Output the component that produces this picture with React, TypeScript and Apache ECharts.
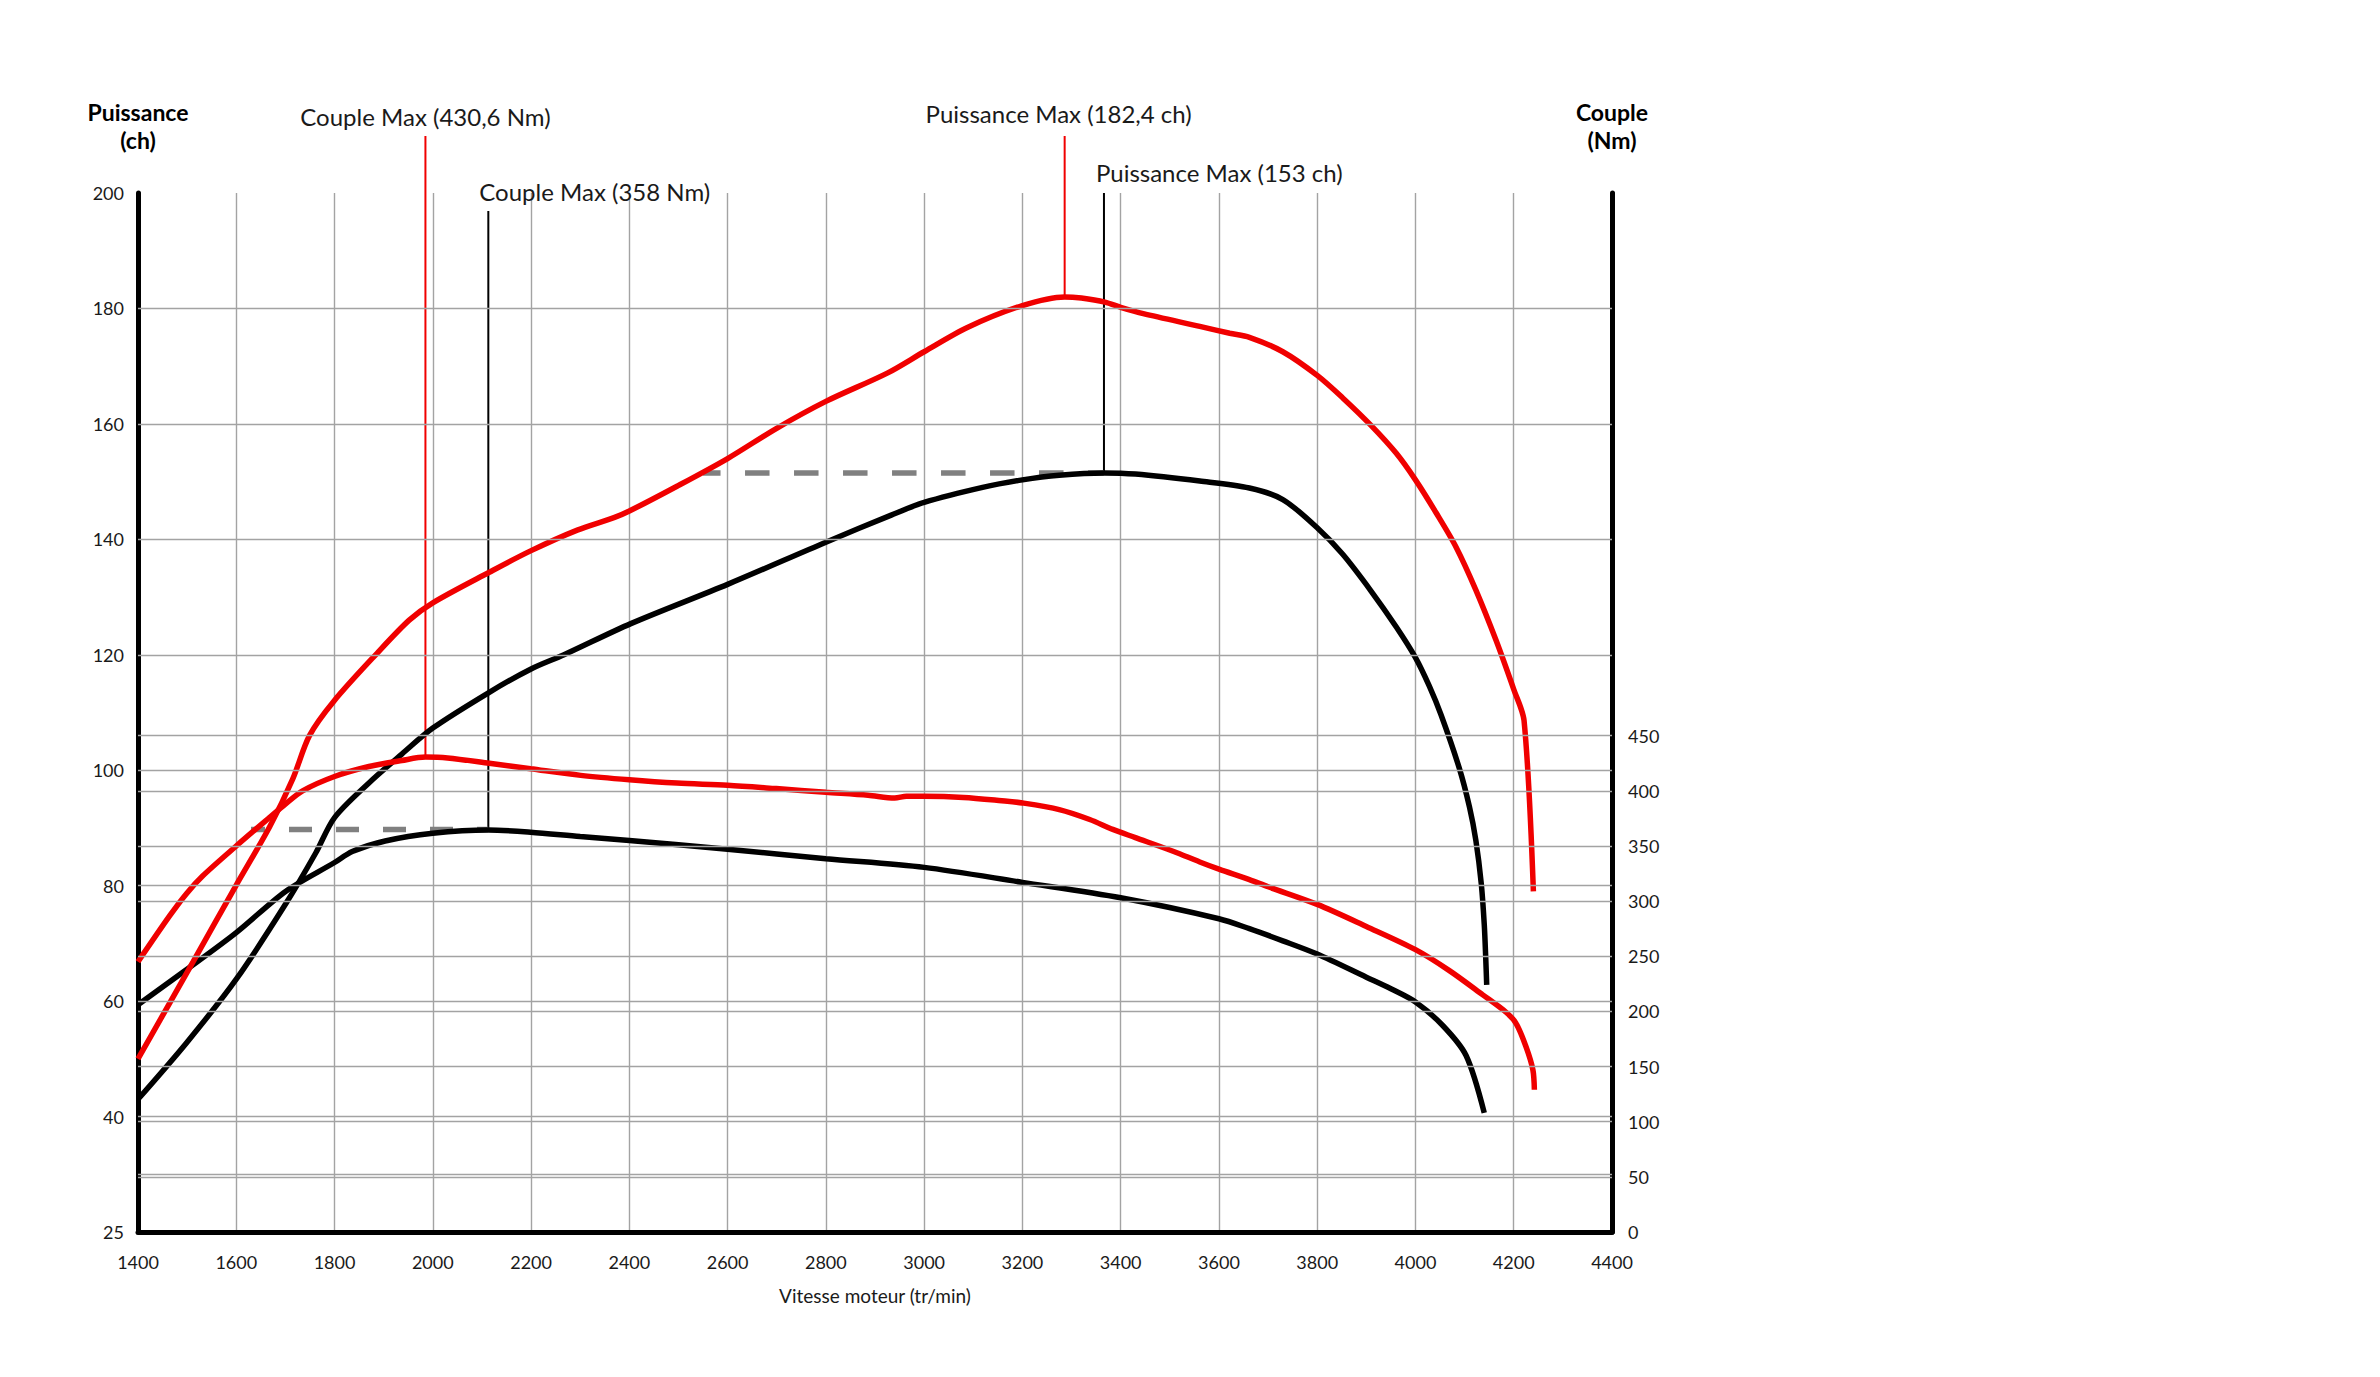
import React, { useEffect, useRef } from "react";
import * as echarts from "echarts";

// ---------- data ----------
// Puissance (ch) vs régime (tr/min)
const redPower: [number, number][] = [
  [1400, 50], [1512, 66.8], [1600, 80.1], [1668, 90.2], [1715, 98.5], [1749, 106],
  [1799, 112], [1887, 120.3], [1952, 126], [2000, 129], [2115, 134.3], [2199, 138],
  [2294, 141.6], [2370, 143.8], [2400, 144.9], [2497, 149.2], [2600, 154], [2699, 159.2],
  [2800, 163.9], [2925, 168.8], [3000, 172.5], [3088, 176.7], [3200, 180.5], [3286, 182],
  [3320, 181.8], [3368, 181.1], [3400, 180.2], [3446, 179.1], [3561, 176.9], [3622, 175.7],
  [3662, 175], [3730, 172.5], [3800, 168.4], [3852, 164.5], [3910, 159.7], [3961, 154.9],
  [4000, 150.3], [4042, 144.6], [4083, 138.6], [4123, 131.2], [4164, 122.5], [4200, 114],
  [4221, 108.6], [4240, 79],
];
const blackPower: [number, number][] = [
  [1400, 43], [1499, 52.8], [1600, 63.8], [1701, 76.9], [1762, 85.7], [1800, 91.8],
  [1870, 97.8], [1937, 102.8], [2000, 107.3], [2115, 113.5], [2199, 117.5], [2267, 120],
  [2403, 125.4], [2600, 132.2], [2800, 139.5], [2933, 144.2], [3000, 146.4], [3119, 149],
  [3200, 150.3], [3275, 151.1], [3366, 151.5], [3430, 151.3], [3561, 150.1], [3662, 148.9],
  [3730, 146.9], [3800, 142], [3852, 137.4], [3910, 131], [3961, 124.8], [4000, 119.5],
  [4028, 114.6], [4052, 109.6], [4089, 100.4], [4110, 93.6], [4123, 87.8], [4134, 80.3],
  [4140, 73.3], [4143, 67.5], [4145, 62.8],
];
// Couple (Nm) vs régime (tr/min)
const redTorque: [number, number][] = [
  [1400, 245], [1465, 287], [1499, 307], [1532, 323], [1600, 350], [1668, 376],
  [1700, 388], [1735, 400], [1800, 413], [1870, 422], [1937, 427.5], [1985, 430.6],
  [2030, 429.8], [2115, 425], [2199, 420], [2301, 414], [2400, 410], [2497, 407],
  [2600, 405], [2699, 402], [2800, 398.7], [2886, 396], [2940, 393.5], [2964, 395],
  [3000, 395], [3080, 394], [3158, 391], [3200, 389], [3275, 383], [3337, 374],
  [3384, 365], [3430, 357.6], [3508, 345], [3561, 335.5], [3600, 329], [3662, 319.5],
  [3700, 313], [3800, 297], [3900, 277], [4000, 256], [4069, 237], [4137, 215],
  [4185, 199], [4205, 189], [4225, 168], [4239, 147], [4242, 129],
];
const blackTorque: [number, number][] = [
  [1400, 206], [1499, 238], [1600, 271.5], [1701, 309], [1800, 335], [1836, 345],
  [1903, 354.5], [2000, 361.5], [2113, 364.5], [2199, 362.5], [2300, 358.5], [2400, 355],
  [2600, 347], [2800, 338.5], [3000, 330.6], [3200, 317], [3400, 303], [3600, 284],
  [3662, 275], [3730, 264], [3800, 252], [3900, 231], [3950, 220.5], [4000, 208.5],
  [4056, 187], [4103, 160], [4140, 108],
];
// dashed reference levels
const torqueDash: [number, number][] = [[1630, 365], [2113, 365]];
const powerDash: [number, number][] = [[2550, 151.5], [3366, 151.5]];
// horizontal grid lines
const chGridValues = [30, 40, 60, 80, 100, 120, 140, 160, 180];
const nmGridValues = [50, 100, 150, 200, 250, 300, 350, 400, 450];
// peak annotations
const peakLabels = ["Couple Max (430,6 Nm)", "Couple Max (358 Nm)", "Puissance Max (182,4 ch)", "Puissance Max (153 ch)"];
const peakRpm = [1985, 2113, 3286, 3366];
const peakValue = [430.6, 364.5, 182, 151.5];
const peakAxis = [1, 1, 0, 0];

// ---------- styles ----------
const RED = "#f00000";
const BLACK = "#000000";
const GRID = "#a3a3a3";
const FONT = "Lato";
const TEXT = "#1a1a1a";

// per-annotation layout (line top offset from plot top, text offsets)
const annLayout = [
  { color: RED, lineTop: -57, dx: 0, ty: -77, align: "center" },
  { color: BLACK, lineTop: 18, dx: -9, ty: -2, align: "left" },
  { color: RED, lineTop: -57, dx: -6, ty: -80, align: "center" },
  { color: BLACK, lineTop: 0, dx: -8, ty: -21, align: "left" },
];

function curve(data: [number, number][], color: string, yAxisIndex: number) {
  return {
    type: "line",
    data,
    yAxisIndex,
    symbol: "none",
    smooth: 0.3,
    silent: true,
    lineStyle: { color, width: 5.5 },
    animation: false,
  };
}

function gridMarkLine(values: number[]) {
  return {
    silent: true,
    symbol: ["none", "none"],
    label: { show: false },
    lineStyle: { color: GRID, width: 1.4, type: "solid" },
    animation: false,
    data: values.map((v) => ({ yAxis: v })),
  };
}

export default function App() {
  const ref = useRef<HTMLDivElement>(null);
  useEffect(() => {
    if (!ref.current) return;
    const chart = echarts.init(ref.current, null, { renderer: "svg" });
    const option: any = {
      animation: false,
      backgroundColor: "#ffffff",
      textStyle: { fontFamily: FONT },
      grid: { left: 138, right: 768, top: 193, bottom: 145, containLabel: false, outerBoundsMode: "none" },
      xAxis: {
        type: "value",
        min: 1400,
        max: 4400,
        interval: 200,
        name: "Vitesse moteur (tr/min)",
        nameLocation: "middle",
        nameGap: 54,
        nameMoveOverlap: false,
        nameTextStyle: { fontSize: 19, color: TEXT, fontFamily: FONT },
        axisLine: { onZero: false, lineStyle: { color: BLACK, width: 5 } },
        axisTick: { show: false },
        axisLabel: {
          fontSize: 18,
          color: TEXT,
          margin: 21,
          fontFamily: FONT,
          formatter: (v: number) => String(v),
        },
        splitLine: { show: true, lineStyle: { color: GRID, width: 1.4 } },
      },
      yAxis: [
        {
          type: "value",
          min: 20,
          max: 200,
          interval: 20,
          position: "left",
          name: "Puissance\n(ch)",
          nameLocation: "end",
          nameGap: 39,
          nameMoveOverlap: false,
          nameTextStyle: { fontSize: 23, fontWeight: "bold", lineHeight: 28, color: BLACK, align: "center", fontFamily: FONT },
          axisLine: { show: true, lineStyle: { color: BLACK, width: 5 } },
          axisTick: { show: false },
          splitLine: { show: false },
          axisLabel: {
            fontSize: 18,
            color: TEXT,
            margin: 14,
            fontFamily: FONT,
            formatter: (v: number) => (v === 20 ? "25" : String(v)),
          },
        },
        {
          type: "value",
          min: 0,
          max: 942,
          interval: 50,
          position: "right",
          name: "Couple\n(Nm)",
          nameLocation: "end",
          nameGap: 39,
          nameMoveOverlap: false,
          nameTextStyle: { fontSize: 23, fontWeight: "bold", lineHeight: 28, color: BLACK, align: "center", fontFamily: FONT },
          axisLine: { show: true, lineStyle: { color: BLACK, width: 5 } },
          axisTick: { show: false },
          splitLine: { show: false },
          axisLabel: {
            fontSize: 18,
            color: TEXT,
            margin: 16,
            fontFamily: FONT,
            formatter: (v: number) => (v <= 450 && v % 50 === 0 ? String(v) : ""),
          },
        },
      ],
      series: [
        {
          type: "line",
          data: torqueDash,
          yAxisIndex: 1,
          symbol: "none",
          silent: true,
          lineStyle: { color: "#808080", width: 5.5, type: [23, 24], dashOffset: 8.7 },
          markLine: gridMarkLine(nmGridValues),
        },
        {
          type: "line",
          data: powerDash,
          yAxisIndex: 0,
          symbol: "none",
          silent: true,
          lineStyle: { color: "#808080", width: 5.5, type: [24.5, 24.5], dashOffset: 7.3 },
          markLine: gridMarkLine(chGridValues),
        },
        curve(blackTorque, BLACK, 1),
        curve(blackPower, BLACK, 0),
        curve(redTorque, RED, 1),
        curve(redPower, RED, 0),
      ],
    };
    chart.setOption(option);

    const toPx = (x: number, y: number, yi: number) =>
      chart.convertToPixel({ xAxisIndex: 0, yAxisIndex: yi } as any, [x, y]) as number[];
    const topY = toPx(1400, 200, 0)[1];
    const graphic: any[] = [];
    peakLabels.forEach((label, i) => {
      const L = annLayout[i];
      const p = toPx(peakRpm[i], peakValue[i], peakAxis[i]);
      graphic.push({
        type: "line",
        silent: true,
        z: 1,
        shape: { x1: p[0], y1: p[1], x2: p[0], y2: topY + L.lineTop },
        style: { stroke: L.color, lineWidth: 2 },
      });
      graphic.push({
        type: "text",
        silent: true,
        x: p[0] + L.dx,
        y: topY + L.ty,
        style: {
          text: label,
          fill: TEXT,
          fontSize: 24,
          fontFamily: FONT,
          textAlign: L.align,
          align: L.align,
          textVerticalAlign: "middle",
          verticalAlign: "middle",
        },
      });
    });
    chart.setOption({ graphic });

    return () => chart.dispose();
  }, []);
  return (
    <div
      ref={ref}
      style={{ position: "fixed", left: 0, top: 0, width: 2380, height: 1377, background: "#fff" }}
    />
  );
}
